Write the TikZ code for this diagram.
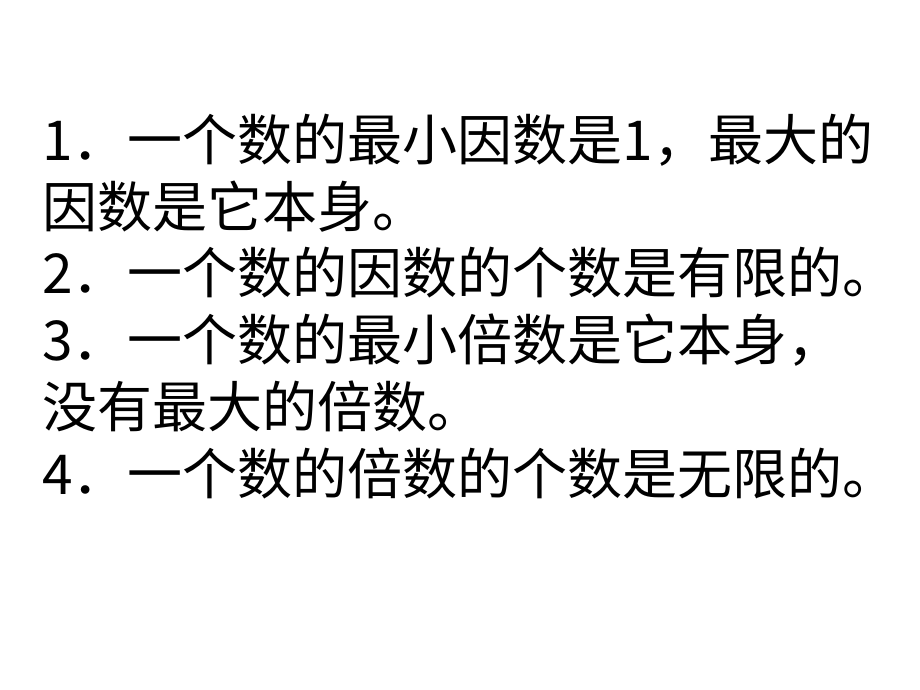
\documentclass[tikz,border=0pt]{standalone}
\usepackage{fontspec}
\newfontfamily\cjk{Noto Sans CJK SC}
\begin{document}
\begin{tikzpicture}[x=1pt,y=-1pt,txt/.style={anchor=base west,inner sep=0pt,font=\cjk\fontsize{55}{55}\selectfont}]
\useasboundingbox[fill=white] (0,0) rectangle (920,690);
\node[txt] (l1) at (42,160) {1．一个数的最小因数是1，最大的};
\node[txt] (l2) at (42,227) {因数是它本身。};
\node[txt] (l3) at (42,293) {2．一个数的因数的个数是有限的。};
\node[txt] (l4) at (42,360) {3．一个数的最小倍数是它本身，};
\node[txt] (l5) at (42,427) {没有最大的倍数。};
\node[txt] (l6) at (42,494) {4．一个数的倍数的个数是无限的。};
\end{tikzpicture}
\end{document}
